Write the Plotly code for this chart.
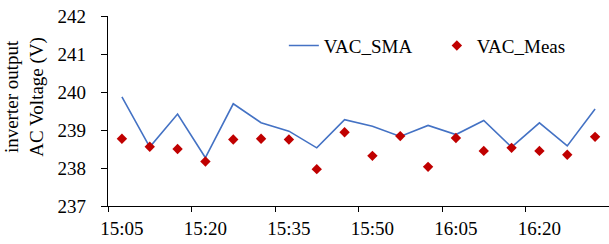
import plotly.graph_objects as go

times = ["15:05", "15:10", "15:15", "15:20", "15:25", "15:30", "15:35", "15:40", "15:45",
         "15:50", "15:55", "16:00", "16:05", "16:10", "16:15", "16:20", "16:25", "16:30"]
vac_sma = [239.87, 238.55, 239.42, 238.27, 239.69, 239.19, 238.97, 238.53, 239.27,
           239.10, 238.83, 239.12, 238.88, 239.25, 238.55, 239.19, 238.58, 239.55]
vac_meas = [238.77, 238.56, 238.50, 238.17, 238.75, 238.77, 238.75, 237.97, 238.94,
            238.32, 238.84, 238.03, 238.79, 238.45, 238.53, 238.45, 238.35, 238.82]
tick_labels = ["15:05", "15:20", "15:35", "15:50", "16:05", "16:20"]
y_title = "inverter output<br>AC Voltage (V)"

idx = list(range(len(times)))
label_pos = [times.index(t) for t in tick_labels]
boundaries = [p - 0.5 for p in label_pos] + [len(times) - 0.5]

FONT = "'Liberation Serif', 'Times New Roman', serif"

fig = go.Figure()
fig.add_trace(go.Scatter(x=idx, y=vac_sma, mode="lines", name="VAC_SMA",
                         line=dict(color="#4472C4", width=1.6)))
fig.add_trace(go.Scatter(x=idx, y=vac_meas, mode="markers", name="VAC_Meas",
                         marker=dict(symbol="diamond", color="#C00000", size=8)))
fig.add_trace(go.Scatter(x=[boundaries[0]], y=[237], xaxis="x2", mode="markers",
                         marker=dict(opacity=0), showlegend=False, hoverinfo="skip"))

xr = [-0.5, len(times) - 0.5]
fig.update_layout(
    width=609, height=244,
    margin=dict(l=108, r=0, t=16, b=38, autoexpand=False),
    paper_bgcolor="white", plot_bgcolor="white",
    font=dict(family=FONT, size=19, color="black"),
    showlegend=True,
    legend=dict(orientation="h", x=0.351, y=0.944, xanchor="left", yanchor="top",
                font=dict(family=FONT, size=19, color="black"),
                bgcolor="rgba(0,0,0,0)", entrywidth=108, tracegroupgap=0),
    xaxis=dict(range=xr, tickmode="array", tickvals=label_pos, ticktext=tick_labels,
               ticks="", showline=False, showgrid=False, zeroline=False, automargin=False,
               ticklabelstandoff=9,
               tickfont=dict(family=FONT, size=19, color="black")),
    xaxis2=dict(range=xr, overlaying="x", side="bottom", anchor="y", automargin=False,
                tickmode="array", tickvals=boundaries, showticklabels=False,
                ticks="outside", ticklen=5, tickcolor="black", tickwidth=1,
                showline=True, linecolor="black", linewidth=1.3,
                showgrid=False, zeroline=False),
    yaxis=dict(range=[237, 242], dtick=1, ticks="outside", ticklen=6, tickcolor="black",
               showline=True, linecolor="black", linewidth=1.3, showgrid=False,
               zeroline=False, ticklabelstandoff=11, automargin=False,
               tickfont=dict(family=FONT, size=19, color="black")),
)
fig.add_annotation(text=y_title, xref="paper", yref="paper", x=-0.167, y=0.577,
                   xanchor="center", yanchor="middle", textangle=-90, showarrow=False,
                   font=dict(family=FONT, size=19, color="black"))

fig.write_html("out.html", config={"displayModeBar": False},
               post_script="document.body.style.margin='0';document.body.style.padding='0';")
